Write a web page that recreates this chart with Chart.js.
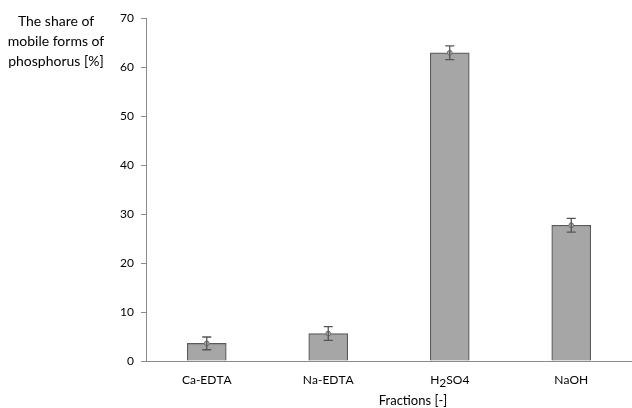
<!DOCTYPE html>
<html>
<head>
<meta charset="utf-8">
<script src="https://cdn.jsdelivr.net/npm/chart.js@4.4.1/dist/chart.umd.min.js"></script>
<style>
  html, body { margin: 0; padding: 0; background: #ffffff; }
  #wrap { width: 632px; height: 408px; position: relative; }
</style>
</head>
<body>
<div id="wrap"><canvas id="share-chart" width="632" height="408"></canvas></div>
<script>
// data ("_" marks a subscript character)
let fractions = ['Ca-EDTA', 'Na-EDTA', 'H_2SO4', 'NaOH'];
let share_values = [3.6, 5.6, 62.9, 27.7];
let share_errors = [1.3, 1.4, 1.4, 1.4];
let y_ticks = [0, 10, 20, 30, 40, 50, 60, 70];
let y_title_lines = ['The share of', 'mobile forms of', 'phosphorus [%]'];
let x_title = 'Fractions [-]';

const FONT = 'Lato, "Open Sans", sans-serif';
const TEXT = '#000000';

// error bars with small caps, drawn through the scales
const errorBars = {
    id: 'errorBars',
    afterDatasetsDraw(chart) {
        let ctx = chart.ctx;
        let xs = chart.scales.x, ys = chart.scales.y;
        ctx.save();
        ctx.strokeStyle = '#555555';
        ctx.lineWidth = 1.3;
        for (let i = 0; i < share_values.length; i++) {
            let x = xs.getPixelForValue(i);
            let top = ys.getPixelForValue(share_values[i] + share_errors[i]);
            let bot = ys.getPixelForValue(share_values[i] - share_errors[i]);
            ctx.beginPath();
            ctx.moveTo(x, top); ctx.lineTo(x, bot);
            ctx.moveTo(x - 4.5, top); ctx.lineTo(x + 4.5, top);
            ctx.moveTo(x - 4.5, bot); ctx.lineTo(x + 4.5, bot);
            ctx.stroke();
        }
        ctx.restore();
    }
};

// split "H_2SO4" into normal / subscript pieces
function label_parts(s) {
    let parts = [];
    for (let i = 0; i < s.length; i++) {
        if (s[i] == '_' && i + 1 < s.length) { parts.push({ t: s[i + 1], sub: true }); i++; }
        else parts.push({ t: s[i], sub: false });
    }
    return parts;
}

// category labels and titles placed like in the original figure
const textLayer = {
    id: 'textLayer',
    afterDraw(chart) {
        let ctx = chart.ctx;
        let xs = chart.scales.x;
        ctx.save();
        ctx.fillStyle = TEXT;
        ctx.textBaseline = 'alphabetic';
        ctx.font = '12px ' + FONT;
        ctx.textAlign = 'left';
        fractions.forEach((lab, i) => {
            let parts = label_parts(lab);
            let w = parts.reduce((a, p) => a + ctx.measureText(p.t).width, 0);
            let x = xs.getPixelForValue(i) - w / 2;
            parts.forEach(p => {
                ctx.fillText(p.t, x, p.sub ? 387 : 384);
                x += ctx.measureText(p.t).width;
            });
        });
        ctx.textAlign = 'center';
        ctx.font = '14px ' + FONT;
        y_title_lines.forEach((t, k) => ctx.fillText(t, 56, 26 + k * 20));
        ctx.font = '13px ' + FONT;
        ctx.fillText(x_title, 413, 405);
        ctx.restore();
    }
};

let ctx = document.getElementById('share-chart');
let chart = new Chart(ctx, {
    type: 'bar',
    data: {
        labels: fractions,
        datasets: [
            {
                type: 'line',
                label: 'mean',
                data: share_values,
                showLine: false,
                pointRadius: 2.4,
                pointBackgroundColor: '#b0b0b0',
                pointBorderColor: '#707070',
                pointBorderWidth: 1,
                order: 0
            },
            {
                label: 'share',
                data: share_values,
                backgroundColor: '#a6a6a6',
                borderColor: '#5a5a5a',
                borderWidth: 1.2,
                barThickness: 39,
                order: 1
            }
        ]
    },
    options: {
        responsive: false,
        animation: false,
        layout: { autoPadding: false, padding: { left: 0, right: 0, top: 18, bottom: 39 } },
        plugins: {
            legend: { display: false },
            tooltip: { enabled: false },
            title: { display: false }
        },
        scales: {
            x: {
                grid: { display: false },
                border: { display: true, color: '#8a8a8a', width: 1 },
                ticks: { display: false }
            },
            y: {
                min: 0,
                max: 70,
                afterBuildTicks: (scale) => { scale.ticks = y_ticks.map(v => ({ value: v })); },
                afterFit: (scale) => { scale.width = 146; },
                grid: { display: true, drawOnChartArea: false, drawTicks: true, tickLength: 5, color: '#8a8a8a' },
                border: { display: true, color: '#8a8a8a', width: 1 },
                ticks: { color: TEXT, padding: 7, font: { family: FONT, size: 12 } }
            }
        }
    },
    plugins: [errorBars, textLayer]
});
</script>
</body>
</html>
